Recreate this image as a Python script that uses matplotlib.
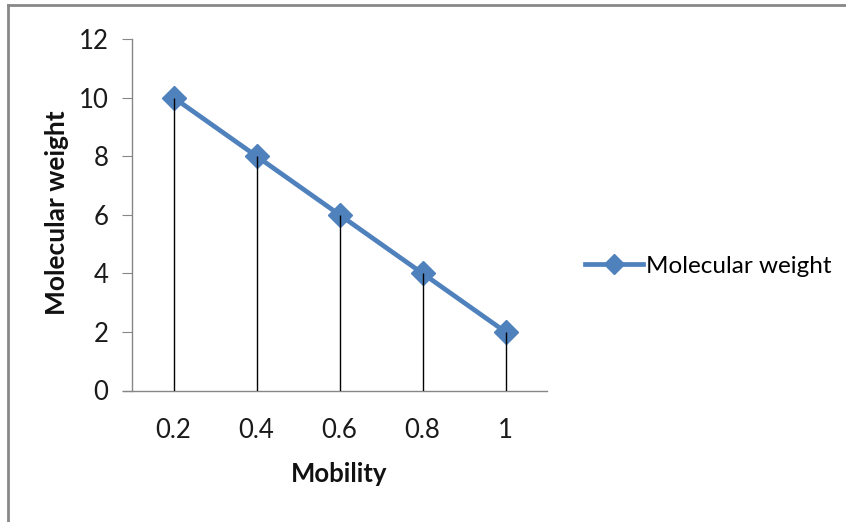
import matplotlib
matplotlib.use("Agg")
import matplotlib.pyplot as plt
from matplotlib.lines import Line2D

# data
mobility = ["0.2", "0.4", "0.6", "0.8", "1"]
mol_weight = [10, 8, 6, 4, 2]
y_ticks = [0, 2, 4, 6, 8, 10, 12]

plt.rcParams['font.family'] = ['Lato', 'DejaVu Sans']

fig = plt.figure(figsize=(8.46, 5.22), dpi=100)
ax = fig.add_axes([132/846, 1 - 390.5/522, (547 - 132)/846, (390.5 - 39)/522])

x = range(len(mobility))

ax.plot(x, mol_weight, color='#4F81BD', lw=3.4, marker='D', markersize=12.5,
        label='Molecular weight', zorder=3)
# drop lines from each point down to the axis (drawn over the markers)
ax.vlines(x, 0, mol_weight, color='black', lw=1.0, zorder=4)

ax.set_xlim(-0.5, len(mobility) - 0.5)
ax.set_ylim(0, 12)
ax.set_xticks(list(x))
ax.set_xticklabels(mobility)
ax.set_yticks(y_ticks)

for s in ['top', 'right']:
    ax.spines[s].set_visible(False)
for s in ['left', 'bottom']:
    ax.spines[s].set_color('#868686')
    ax.spines[s].set_linewidth(1.0)
ax.tick_params(axis='y', length=7, color='#868686', labelsize=18.5, pad=10, labelcolor='#1a1a1a')
ax.tick_params(axis='x', length=0, labelsize=18.5, pad=20, labelcolor='#1a1a1a')
ax.spines['bottom'].set_bounds(-0.5 - 9/83, len(mobility) - 0.5)

fig.text(57/846, 1 - 213/522, 'Molecular weight', rotation=90, fontsize=19,
         fontweight='bold', ha='center', va='center', color='#111111')
fig.text(339/846, 1 - 474/522, 'Mobility', fontsize=18.5, fontweight='bold',
         ha='center', va='center', color='#111111')

ax.legend(loc='center left', bbox_to_anchor=(585/846, 1 - 266/522),
          bbox_transform=fig.transFigure, frameon=False, fontsize=17.5,
          handlelength=2.4, handletextpad=0.1, borderpad=0, borderaxespad=0,
          markerscale=0.85)

# chart-area border (left and top visible)
fig.add_artist(Line2D([8/846, 8/846], [0, 1 - 5/522], transform=fig.transFigure,
                      color='#888888', lw=2))
fig.add_artist(Line2D([8/846, 1], [1 - 5/522, 1 - 5/522], transform=fig.transFigure,
                      color='#888888', lw=2))

fig.savefig('out.png', dpi=100)
